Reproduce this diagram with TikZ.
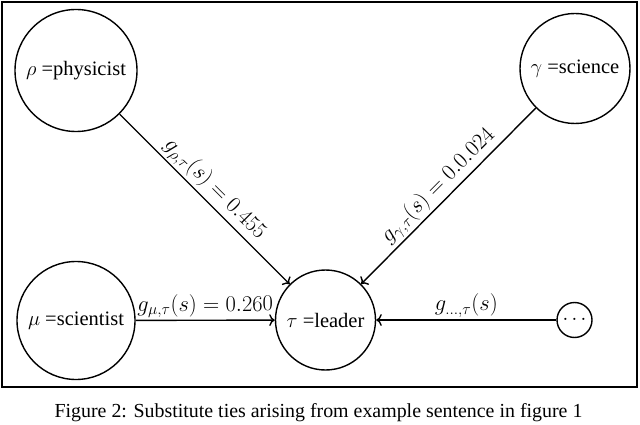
\RequirePackage{fix-cm}
\documentclass[tikz,border=0pt]{standalone}
\usepackage{fontspec}
\setmainfont{Liberation Serif}
\usetikzlibrary{arrows.meta}
\begin{document}
\begin{tikzpicture}[x=1pt,y=-1pt,
  every node/.style={font=\fontsize{20.5}{24}\selectfont},
  ent/.style={draw,circle,line width=1.4pt,inner sep=0pt},
  tie/.style={-{To[scale=1.2]},line width=1.4pt},
  lab/.style={midway,above,sloped,inner sep=2pt,font=\fontsize{22.5}{26}\selectfont}]
\useasboundingbox (0,0) rectangle (640,425);
\draw[line width=2pt] (2,2) rectangle (637,387);
\node[ent,minimum size=122pt] (rho) at (76,70.5) {$\rho$ =physicist};
\node[ent,minimum size=110pt] (gam) at (575,68.5) {$\gamma$ =science};
\node[ent,minimum size=118pt] (mu) at (76,320.5) {$\mu$ =scientist};
\node[ent,minimum size=100pt] (tau) at (325.5,320) {$\tau$ =leader};
\node[ent,minimum size=35pt] (dots) at (574.5,320) {$\cdots$};
\draw[tie] (rho) -- node[lab] {$g_{\rho,\tau}(s)=0.455$} (tau);
\draw[tie] (gam) -- node[lab] {$g_{\gamma,\tau}(s)=0.0.024$} (tau);
\draw[tie] (mu) -- node[lab] {$g_{\mu,\tau}(s)=0.260$} (tau);
\draw[tie] (dots) -- node[lab] {$g_{\dots,\tau}(s)$} (tau);
\node[font=\fontsize{19.9}{24}\selectfont] (cap) at (318.5,413) {Figure 2: Substitute ties arising from example sentence in figure 1};
\end{tikzpicture}
\end{document}
